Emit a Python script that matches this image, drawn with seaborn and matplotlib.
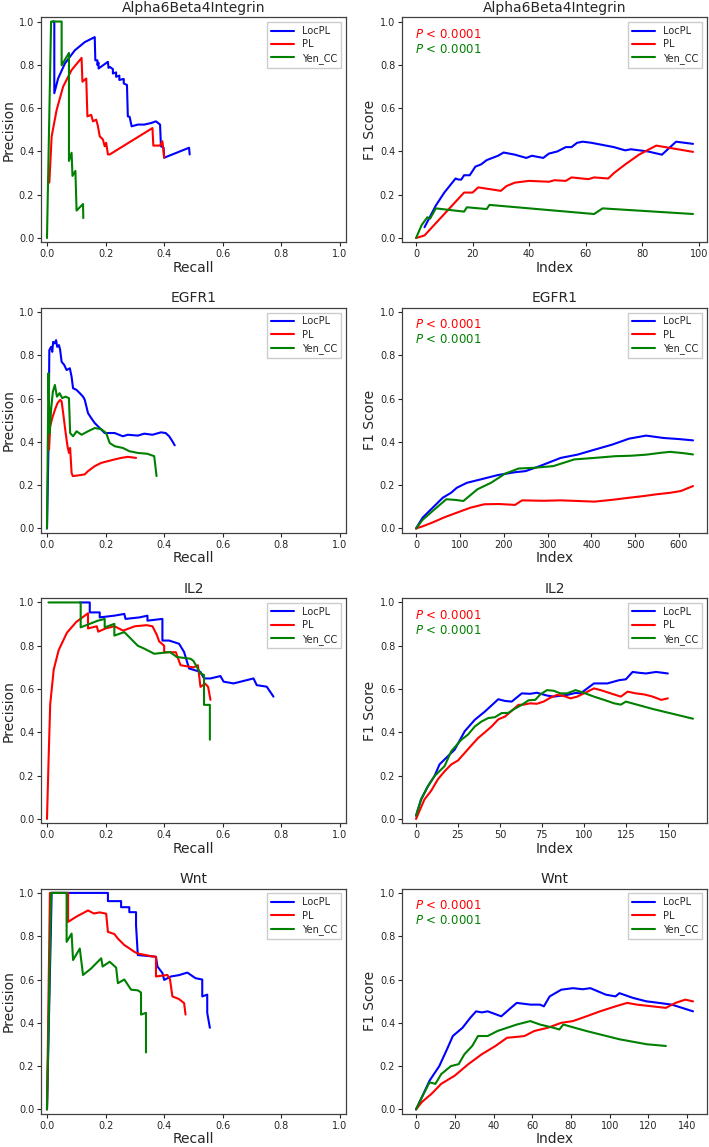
import matplotlib
matplotlib.use("Agg")
import matplotlib.pyplot as plt
import seaborn as sns

# colours / labels
METHODS = ['LocPL', 'PL', 'Yen_CC']
COLORS = ['blue', 'red', 'green']
GENES = ['Alpha6Beta4Integrin', 'EGFR1', 'IL2', 'Wnt']

# ---------------- Alpha6Beta4Integrin ----------------
a6_pr_locpl_r = [0.020, 0.025, 0.025, 0.038, 0.061, 0.095, 0.129, 0.163, 0.165, 0.172, 0.172, 0.176,
                 0.176, 0.208, 0.21, 0.215, 0.225, 0.225, 0.236, 0.236, 0.247, 0.247, 0.262, 0.262,
                 0.273, 0.276, 0.282, 0.289, 0.31, 0.332, 0.355, 0.372, 0.386, 0.389, 0.398, 0.40,
                 0.485, 0.487]
a6_pr_locpl_p = [1.0, 1.0, 0.669, 0.737, 0.806, 0.867, 0.905, 0.928, 0.821, 0.821, 0.800, 0.81, 0.783,
                 0.814, 0.786, 0.79, 0.78, 0.76, 0.765, 0.745, 0.75, 0.73, 0.735, 0.714, 0.707, 0.562,
                 0.56, 0.516, 0.524, 0.524, 0.531, 0.539, 0.524, 0.424, 0.417, 0.371, 0.417, 0.386]
a6_pr_pl_r = [0.008, 0.016, 0.033, 0.055, 0.084, 0.118, 0.121, 0.134, 0.138, 0.151, 0.157, 0.168, 0.174,
              0.18, 0.191, 0.197, 0.202, 0.208, 0.214, 0.36, 0.363, 0.386, 0.394, 0.40]
a6_pr_pl_p = [0.256, 0.47, 0.592, 0.699, 0.776, 0.832, 0.722, 0.737, 0.562, 0.569, 0.539, 0.547, 0.516,
              0.47, 0.455, 0.424, 0.44, 0.386, 0.386, 0.508, 0.427, 0.427, 0.447, 0.371]
a6_pr_yen_r = [0.0, 0.014, 0.05, 0.05, 0.075, 0.075, 0.084, 0.087, 0.097, 0.101, 0.123, 0.124]
a6_pr_yen_p = [0.0, 1.0, 1.0, 0.798, 0.855, 0.356, 0.394, 0.287, 0.31, 0.127, 0.157, 0.092]

a6_f1_locpl_i = [3, 7, 10, 14, 15, 16, 17, 19, 21, 23, 25, 27, 29, 31, 35, 39, 41, 45, 47, 50, 53, 55, 57,
                 59, 62, 70, 74, 76, 82, 87, 92, 98]
a6_f1_locpl_v = [0.05, 0.15, 0.21, 0.275, 0.27, 0.27, 0.29, 0.29, 0.33, 0.34, 0.36, 0.37, 0.38, 0.395,
                 0.385, 0.37, 0.38, 0.37, 0.39, 0.40, 0.42, 0.42, 0.44, 0.445, 0.44, 0.42, 0.405, 0.41,
                 0.40, 0.385, 0.445, 0.435]
a6_f1_pl_i = [0, 3, 17, 20, 22, 26, 30, 32, 35, 40, 47, 49, 53, 55, 61, 63, 68, 70, 74, 79, 85, 98]
a6_f1_pl_v = [0.0, 0.012, 0.21, 0.21, 0.234, 0.226, 0.218, 0.24, 0.256, 0.264, 0.26, 0.267, 0.264, 0.28,
              0.272, 0.28, 0.275, 0.30, 0.34, 0.386, 0.427, 0.398]
a6_f1_yen_i = [0, 2, 4, 5, 7, 17, 18, 25, 26, 63, 66, 98]
a6_f1_yen_v = [0.0, 0.06, 0.096, 0.09, 0.137, 0.122, 0.142, 0.134, 0.153, 0.111, 0.137, 0.111]

# ---------------- EGFR1 ----------------
eg_pr_locpl_r = [0.0, 0.005, 0.008, 0.014, 0.018, 0.021, 0.027, 0.031, 0.035, 0.041, 0.045, 0.05, 0.059,
                 0.067, 0.078, 0.084, 0.089, 0.101, 0.112, 0.123, 0.129, 0.14, 0.151, 0.163, 0.18, 0.197,
                 0.231, 0.259, 0.276, 0.31, 0.332, 0.36, 0.389, 0.405, 0.417, 0.428, 0.436]
eg_pr_locpl_p = [0.0, 0.364, 0.824, 0.839, 0.816, 0.862, 0.855, 0.87, 0.839, 0.847, 0.824, 0.77, 0.755,
                 0.732, 0.74, 0.701, 0.648, 0.64, 0.625, 0.609, 0.594, 0.533, 0.51, 0.487, 0.464, 0.441,
                 0.441, 0.426, 0.433, 0.429, 0.438, 0.433, 0.444, 0.441, 0.426, 0.403, 0.384]
eg_pr_pl_r = [0.007, 0.011, 0.018, 0.027, 0.036, 0.045, 0.05, 0.056, 0.063, 0.07, 0.075, 0.079, 0.084,
              0.088, 0.106, 0.129, 0.14, 0.163, 0.185, 0.208, 0.231, 0.253, 0.276, 0.304]
eg_pr_pl_p = [0.364, 0.472, 0.51, 0.548, 0.579, 0.594, 0.587, 0.525, 0.449, 0.38, 0.349, 0.372, 0.257,
              0.242, 0.245, 0.25, 0.265, 0.288, 0.303, 0.311, 0.319, 0.326, 0.331, 0.326]
eg_pr_yen_r = [0.0, 0.005, 0.009, 0.014, 0.02, 0.027, 0.034, 0.043, 0.052, 0.063, 0.075, 0.079, 0.089,
               0.101, 0.118, 0.14, 0.163, 0.185, 0.202, 0.214, 0.231, 0.259, 0.281, 0.31, 0.343, 0.366,
               0.374]
eg_pr_yen_p = [0.0, 0.717, 0.441, 0.548, 0.632, 0.663, 0.609, 0.625, 0.602, 0.609, 0.602, 0.441, 0.426,
               0.449, 0.433, 0.449, 0.464, 0.459, 0.441, 0.395, 0.38, 0.372, 0.357, 0.349, 0.345, 0.334,
               0.242]

eg_f1_locpl_i = [0, 15, 38, 61, 80, 93, 116, 148, 187, 226, 250, 282, 330, 368, 407, 447, 486, 525, 565,
                 600, 632]
eg_f1_locpl_v = [0.0, 0.05, 0.096, 0.142, 0.165, 0.188, 0.211, 0.227, 0.247, 0.26, 0.265, 0.288, 0.326,
                 0.341, 0.364, 0.387, 0.415, 0.429, 0.418, 0.413, 0.407]
eg_f1_pl_i = [0, 15, 38, 65, 93, 124, 156, 190, 226, 242, 290, 330, 370, 407, 450, 486, 520, 549, 580,
              604, 632]
eg_f1_pl_v = [0.0, 0.01, 0.028, 0.052, 0.073, 0.096, 0.112, 0.113, 0.109, 0.13, 0.128, 0.13, 0.127, 0.124,
              0.133, 0.142, 0.15, 0.158, 0.165, 0.173, 0.196]
eg_f1_yen_i = [0, 15, 38, 69, 90, 108, 140, 171, 203, 234, 266, 313, 361, 407, 455, 490, 525, 560, 580,
               610, 632]
eg_f1_yen_v = [0.0, 0.04, 0.081, 0.135, 0.132, 0.127, 0.181, 0.211, 0.253, 0.277, 0.28, 0.288, 0.319,
               0.326, 0.334, 0.336, 0.341, 0.35, 0.354, 0.348, 0.342]

# ---------------- IL2 ----------------
il_pr_locpl_r = [0.112, 0.146, 0.146, 0.18, 0.18, 0.23, 0.264, 0.268, 0.316, 0.343, 0.343, 0.394, 0.394,
                 0.417, 0.451, 0.468, 0.485, 0.524, 0.536, 0.558, 0.592, 0.603, 0.637, 0.705, 0.716, 0.75,
                 0.773]
il_pr_locpl_p = [1.0, 1.0, 0.954, 0.954, 0.931, 0.939, 0.947, 0.924, 0.931, 0.939, 0.916, 0.924, 0.824,
                 0.824, 0.809, 0.771, 0.695, 0.679, 0.649, 0.649, 0.66, 0.634, 0.626, 0.649, 0.618, 0.611,
                 0.565]
il_pr_pl_r = [0.0, 0.006, 0.011, 0.023, 0.04, 0.068, 0.10, 0.14, 0.14, 0.17, 0.175, 0.2, 0.23, 0.26, 0.30,
              0.34, 0.36, 0.375, 0.383, 0.40, 0.40, 0.44, 0.445, 0.456, 0.50, 0.515, 0.524, 0.54, 0.55,
              0.558]
il_pr_pl_p = [0.0, 0.30, 0.53, 0.69, 0.78, 0.86, 0.91, 0.95, 0.88, 0.89, 0.865, 0.88, 0.89, 0.87, 0.89,
              0.895, 0.89, 0.85, 0.82, 0.80, 0.77, 0.77, 0.75, 0.71, 0.70, 0.71, 0.61, 0.625, 0.61, 0.55]
il_pr_yen_r = [0.005, 0.115, 0.115, 0.174, 0.197, 0.197, 0.23, 0.23, 0.264, 0.31, 0.333, 0.366, 0.42,
               0.443, 0.49, 0.50, 0.524, 0.536, 0.536, 0.556, 0.556]
il_pr_yen_p = [1.0, 1.0, 0.885, 0.916, 0.924, 0.885, 0.901, 0.847, 0.863, 0.80, 0.786, 0.763, 0.771,
               0.748, 0.74, 0.73, 0.672, 0.665, 0.527, 0.527, 0.366]

il_f1_locpl_i = [0, 3, 7, 11, 14, 19, 23, 29, 35, 41, 49, 53, 57, 63, 68, 72, 78, 82, 90, 95, 98, 106,
                 114, 121, 125, 129, 133, 137, 143, 150]
il_f1_locpl_v = [0.015, 0.09, 0.15, 0.198, 0.252, 0.29, 0.32, 0.405, 0.458, 0.496, 0.553, 0.545, 0.542,
                 0.58, 0.578, 0.583, 0.57, 0.565, 0.573, 0.582, 0.58, 0.626, 0.626, 0.641, 0.645, 0.679,
                 0.675, 0.672, 0.679, 0.672]
il_f1_pl_i = [0, 5, 9, 13, 17, 21, 25, 29, 33, 37, 41, 45, 49, 53, 57, 61, 64, 68, 72, 76, 80, 84, 88,
              92, 96, 100, 106, 110, 116, 122, 126, 131, 136, 141, 146, 150]
il_f1_pl_v = [0.0, 0.09, 0.13, 0.183, 0.22, 0.252, 0.27, 0.305, 0.34, 0.374, 0.40, 0.427, 0.46, 0.473,
              0.50, 0.527, 0.528, 0.534, 0.532, 0.542, 0.56, 0.573, 0.568, 0.557, 0.565, 0.58, 0.603,
              0.595, 0.58, 0.565, 0.588, 0.58, 0.575, 0.565, 0.55, 0.557]
il_f1_yen_i = [0, 3, 7, 11, 17, 21, 27, 31, 35, 39, 43, 47, 51, 55, 59, 63, 67, 71, 74, 78, 82, 86, 90,
               95, 98, 106, 112, 118, 122, 125, 133, 141, 149, 157, 165]
il_f1_yen_v = [0.015, 0.09, 0.15, 0.198, 0.244, 0.313, 0.366, 0.39, 0.427, 0.45, 0.466, 0.47, 0.489,
               0.49, 0.51, 0.527, 0.548, 0.55, 0.575, 0.595, 0.592, 0.58, 0.58, 0.595, 0.588, 0.565, 0.55,
               0.534, 0.528, 0.542, 0.525, 0.508, 0.493, 0.478, 0.463]

# ---------------- Wnt ----------------
wn_pr_locpl_r = [0.0, 0.016, 0.208, 0.208, 0.253, 0.253, 0.281, 0.281, 0.304, 0.304, 0.31, 0.372, 0.377,
                 0.394, 0.40, 0.423, 0.45, 0.479, 0.507, 0.53, 0.53, 0.547, 0.547, 0.556]
wn_pr_locpl_p = [0.0, 1.0, 1.0, 0.962, 0.962, 0.934, 0.934, 0.911, 0.911, 0.85, 0.713, 0.705, 0.66, 0.63,
                 0.598, 0.614, 0.62, 0.632, 0.606, 0.60, 0.522, 0.53, 0.446, 0.377]
wn_pr_pl_r = [0.0, 0.01, 0.072, 0.072, 0.072, 0.10, 0.14, 0.16, 0.18, 0.202, 0.208, 0.23, 0.242, 0.264,
              0.28, 0.298, 0.31, 0.355, 0.372, 0.372, 0.411, 0.42, 0.428, 0.45, 0.468, 0.473]
wn_pr_pl_p = [0.0, 1.0, 1.0, 0.953, 0.866, 0.89, 0.919, 0.905, 0.91, 0.904, 0.82, 0.81, 0.789, 0.759,
              0.745, 0.728, 0.72, 0.708, 0.705, 0.614, 0.621, 0.60, 0.522, 0.51, 0.491, 0.438]
wn_pr_yen_r = [0.0, 0.014, 0.067, 0.067, 0.084, 0.089, 0.112, 0.123, 0.15, 0.185, 0.19, 0.214, 0.236,
               0.242, 0.264, 0.287, 0.31, 0.321, 0.321, 0.338, 0.338]
wn_pr_yen_p = [0.0, 1.0, 1.0, 0.774, 0.812, 0.69, 0.743, 0.621, 0.65, 0.698, 0.66, 0.682, 0.655, 0.583,
               0.60, 0.553, 0.55, 0.54, 0.438, 0.446, 0.263]

wn_f1_locpl_i = [0, 3, 7, 12, 16, 19, 24, 28, 31, 34, 37, 44, 49, 52, 59, 64, 66, 69, 75, 81, 86, 90, 98,
                 103, 105, 112, 119, 122, 127, 132, 137, 143]
wn_f1_locpl_v = [0.0, 0.056, 0.133, 0.20, 0.278, 0.339, 0.377, 0.423, 0.453, 0.448, 0.453, 0.43, 0.469,
                 0.492, 0.484, 0.484, 0.476, 0.522, 0.553, 0.56, 0.555, 0.56, 0.53, 0.522, 0.537, 0.515,
                 0.499, 0.496, 0.49, 0.484, 0.47, 0.453]
wn_f1_pl_i = [0, 3, 8, 13, 20, 27, 34, 41, 47, 52, 56, 61, 68, 75, 81, 88, 95, 103, 109, 114, 122, 129,
              134, 139, 143]
wn_f1_pl_v = [0.0, 0.034, 0.072, 0.118, 0.156, 0.209, 0.255, 0.293, 0.331, 0.335, 0.339, 0.362, 0.377,
              0.40, 0.408, 0.43, 0.453, 0.476, 0.492, 0.484, 0.476, 0.469, 0.492, 0.507, 0.499]
wn_f1_yen_i = [0, 3, 7, 10, 13, 18, 22, 25, 29, 32, 37, 42, 47, 52, 59, 64, 71, 74, 76, 88, 105, 119,
               129]
wn_f1_yen_v = [0.0, 0.056, 0.125, 0.118, 0.163, 0.20, 0.209, 0.255, 0.293, 0.339, 0.339, 0.362, 0.377,
               0.392, 0.408, 0.392, 0.377, 0.369, 0.392, 0.362, 0.324, 0.301, 0.293]

PR_DATA = [
    [(a6_pr_locpl_r, a6_pr_locpl_p), (a6_pr_pl_r, a6_pr_pl_p), (a6_pr_yen_r, a6_pr_yen_p)],
    [(eg_pr_locpl_r, eg_pr_locpl_p), (eg_pr_pl_r, eg_pr_pl_p), (eg_pr_yen_r, eg_pr_yen_p)],
    [(il_pr_locpl_r, il_pr_locpl_p), (il_pr_pl_r, il_pr_pl_p), (il_pr_yen_r, il_pr_yen_p)],
    [(wn_pr_locpl_r, wn_pr_locpl_p), (wn_pr_pl_r, wn_pr_pl_p), (wn_pr_yen_r, wn_pr_yen_p)],
]
F1_DATA = [
    [(a6_f1_locpl_i, a6_f1_locpl_v), (a6_f1_pl_i, a6_f1_pl_v), (a6_f1_yen_i, a6_f1_yen_v)],
    [(eg_f1_locpl_i, eg_f1_locpl_v), (eg_f1_pl_i, eg_f1_pl_v), (eg_f1_yen_i, eg_f1_yen_v)],
    [(il_f1_locpl_i, il_f1_locpl_v), (il_f1_pl_i, il_f1_pl_v), (il_f1_yen_i, il_f1_yen_v)],
    [(wn_f1_locpl_i, wn_f1_locpl_v), (wn_f1_pl_i, wn_f1_pl_v), (wn_f1_yen_i, wn_f1_yen_v)],
]
F1_XTICKS = [[0, 20, 40, 60, 80, 100], [0, 100, 200, 300, 400, 500, 600],
             [0, 25, 50, 75, 100, 125, 150], [0, 20, 40, 60, 80, 100, 120, 140]]
P_TEXT = r'$P$ < 0.0001'

sns.set_style("ticks")
plt.rcParams['font.family'] = ['DejaVu Sans']

fig, axes = plt.subplots(4, 2, figsize=(7.09, 11.47), dpi=100)
fig.subplots_adjust(left=0.058, right=0.997, top=0.985, bottom=0.029, wspace=0.185, hspace=0.29)


def style_axes(ax, title, xlabel, ylabel):
    ax.set_title(title, fontsize=10, pad=4)
    ax.set_xlabel(xlabel, fontsize=10, labelpad=1)
    ax.set_ylabel(ylabel, fontsize=10, labelpad=2)
    ax.tick_params(labelsize=7, length=3, width=0.8, pad=2)
    ax.set_ylim(-0.02, 1.02)
    ax.set_yticks([0.0, 0.2, 0.4, 0.6, 0.8, 1.0])
    for s in ax.spines.values():
        s.set_color('#404040')
        s.set_linewidth(0.9)
    ax.legend(loc='upper right', fontsize=7, handlelength=2.4, borderpad=0.4,
              labelspacing=0.35, framealpha=1, edgecolor='#cccccc', fancybox=False)


for row, gene in enumerate(GENES):
    ax = axes[row, 0]
    for (x, y), name, c in zip(PR_DATA[row], METHODS, COLORS):
        sns.lineplot(x=x, y=y, color=c, label=name, sort=False, estimator=None,
                     linewidth=1.5, ax=ax)
    ax.set_xlim(-0.02, 1.02)
    ax.set_xticks([0.0, 0.2, 0.4, 0.6, 0.8, 1.0])
    style_axes(ax, gene, 'Recall', 'Precision')

    ax = axes[row, 1]
    for (x, y), name, c in zip(F1_DATA[row], METHODS, COLORS):
        sns.lineplot(x=x, y=y, color=c, label=name, sort=False, estimator=None,
                     linewidth=1.5, ax=ax)
    ax.set_xticks(F1_XTICKS[row])
    style_axes(ax, gene, 'Index', 'F1 Score')
    ax.text(0.043, 0.925, P_TEXT, color='red', fontsize=8.5, va='center', transform=ax.transAxes)
    ax.text(0.043, 0.858, P_TEXT, color='green', fontsize=8.5, va='center', transform=ax.transAxes)

fig.savefig('out.png', dpi=100)
